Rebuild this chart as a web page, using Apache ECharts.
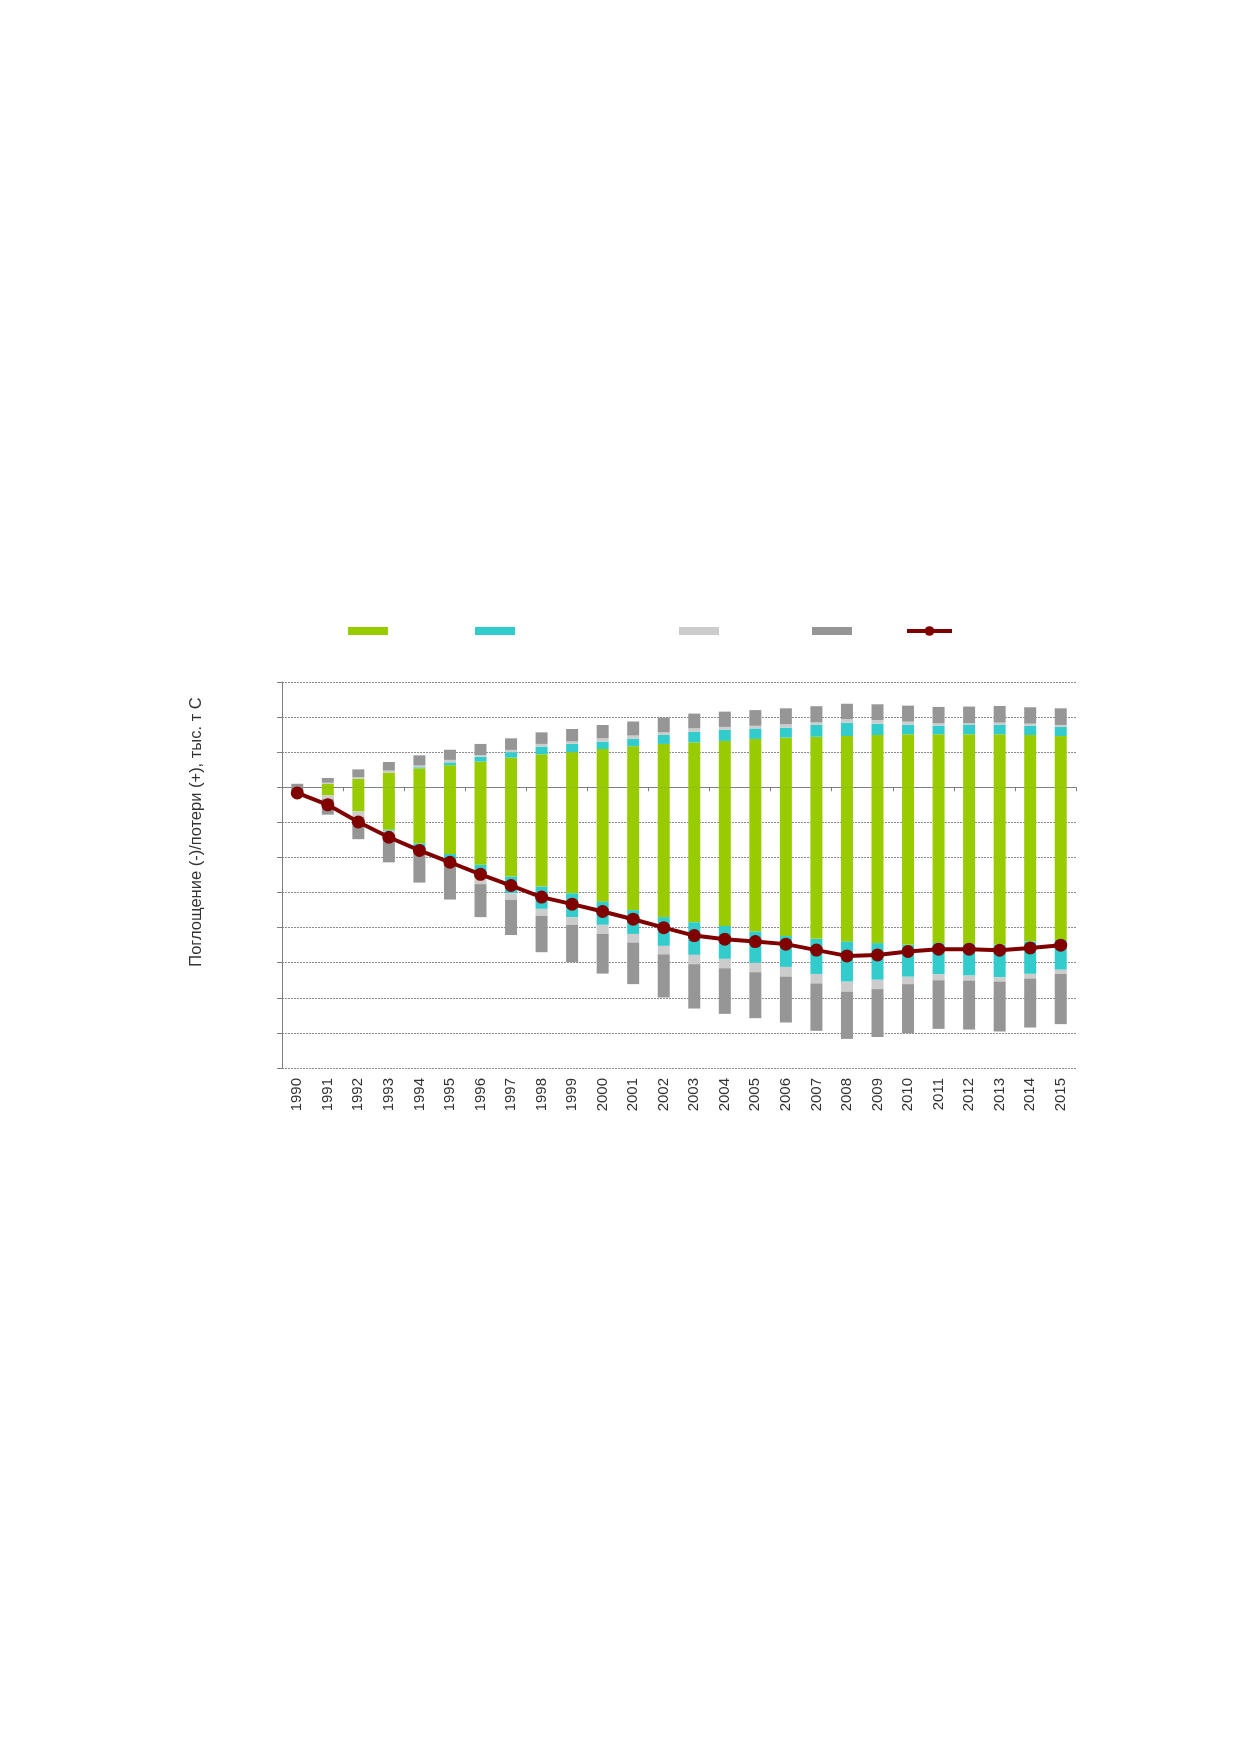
<!DOCTYPE html>
<html>
<head>
<meta charset="utf-8">
<script src="https://cdn.jsdelivr.net/npm/echarts@6/dist/echarts.min.js"></script>
<style>
html,body{margin:0;padding:0;background:#fff;}
#chart{width:1239px;height:1754px;}
</style>
</head>
<body>
<div id="chart"></div>
<script>
var years = ['1990','1991','1992','1993','1994','1995','1996','1997','1998','1999','2000','2001','2002','2003','2004','2005','2006','2007','2008','2009','2010','2011','2012','2013','2014','2015'];

var greenPos = [0, 9.5, 24, 42, 54, 63, 73, 84.5, 94, 100, 109, 117, 123.5, 128, 132, 137.7, 141.5, 144, 146, 149, 151, 151, 151, 151, 149, 146];
var cyanPos  = [0, 0, 0, 0, 3, 8, 14, 15.5, 22, 24, 21, 21, 25.5, 30.5, 32, 30, 28.5, 33.6, 38, 32, 27.5, 24.7, 26.6, 26.6, 26.7, 26];
var lgrayPos = [0, 3.5, 4.5, 5.5, 5, 7, 5, 6.5, 7.5, 6.5, 9.5, 9.5, 7.5, 9.5, 8, 7.6, 9.5, 7.4, 10.5, 10.5, 8.5, 6.6, 4.8, 6.6, 5.7, 5.6];
var dgrayPos = [10, 13.5, 22.5, 24.5, 29, 29, 31.5, 33, 33, 35.5, 38, 40, 42.5, 42, 43.6, 44.6, 45.5, 46, 43.5, 45, 45.7, 46.7, 47.6, 47.5, 46.6, 47.4];

var greenNeg = [0, -23, -69, -121, -160, -190, -221, -254.5, -283, -302, -326, -350, -370, -384.6, -395, -411, -423.5, -432, -440, -444, -449, -444, -447, -449, -439.7, -435];
var cyanNeg  = [0, 0, 0, -3, -10, -15, -35, -47.5, -63.5, -68, -66, -68, -82, -93, -94, -89.5, -88.5, -100, -114, -104.6, -91, -88.8, -89.6, -92, -92, -85];
var lgrayNeg = [0, -10, -15, -12, -15, -14, -20, -19, -20, -22, -26, -24.5, -24, -26.5, -26.7, -26.5, -27.4, -27, -28.5, -26.5, -21, -17.2, -14.2, -12.7, -13.3, -11.8];
var dgrayNeg = [-26, -45, -64, -78, -86.6, -101, -94, -100, -103.5, -106.6, -113, -118.5, -123, -126.5, -130, -131, -131, -135, -134.5, -136.5, -140, -138.5, -139.6, -142.3, -139.7, -143.2];

var netTotal = [-16, -50, -99, -142.5, -180, -213.7, -248, -280, -313, -333, -354, -376, -400, -422.6, -433, -439.7, -447, -464, -480.5, -477.7, -468, -461.5, -461.5, -464.4, -457.7, -450];

var names = ['Лесные земли', 'Пахотные земли', 'Кормовые угодья', 'Водно-болотные угодья', 'Нетто'];
var colors = ['#99cc00', '#33cccc', '#cccccc', '#969696', '#800000'];

var chart = echarts.init(document.getElementById('chart'), null, {renderer: 'canvas'});

function barSeries(name, data, color) {
  return {
    name: name, type: 'bar', stack: 'total', xAxisIndex: 0, data: data,
    barWidth: 12, itemStyle: {color: color}, emphasis: {disabled: true}
  };
}

var legendLefts = [348, 475, 679, 812];
var legends = [];
for (var i = 0; i < 4; i++) {
  legends.push({
    data: [names[i]], left: legendLefts[i], top: 627, icon: 'rect',
    itemWidth: 40, itemHeight: 8, itemGap: 0, padding: 0,
    formatter: function () { return ''; }, textStyle: {fontSize: 1}
  });
}
legends.push({
  data: [names[4]], left: 905, top: 625, itemWidth: 45, itemHeight: 12, padding: 0,
  lineStyle: {width: 4},
  formatter: function () { return ''; }, textStyle: {fontSize: 1}
});

var option = {
  animation: false,
  backgroundColor: '#ffffff',
  textStyle: {fontFamily: 'Liberation Sans, Arial, sans-serif'},
  legend: legends,
  grid: {left: 282, right: 163, top: 682, bottom: 686, containLabel: false},
  xAxis: [
    {
      type: 'category', data: years, position: 'bottom',
      axisLine: {onZero: true, lineStyle: {color: '#7f7f7f', width: 1}},
      axisTick: {show: true, length: 4, lineStyle: {color: '#7f7f7f'}},
      axisLabel: {show: false},
      splitLine: {show: false}
    },
    {
      type: 'category', data: years, position: 'bottom',
      axisLine: {show: false, onZero: false},
      axisTick: {show: false},
      axisLabel: {show: true, rotate: 90, margin: 10, fontSize: 15, color: '#333333', fontFamily: 'Liberation Sans, Arial, sans-serif'},
      splitLine: {show: false}
    }
  ],
  yAxis: {
    type: 'value', min: -800, max: 300, interval: 100,
    name: 'Поглощение (-)/потери (+), тыс. т С',
    nameLocation: 'middle', nameGap: 77, nameRotate: 90,
    nameTextStyle: {fontSize: 16.5, color: '#333333', fontFamily: 'Liberation Sans, Arial, sans-serif', padding: [0, 0, 0, 86]},
    axisLine: {show: true, lineStyle: {color: '#7f7f7f', width: 1}},
    axisTick: {show: true, length: 5, lineStyle: {color: '#7f7f7f'}},
    axisLabel: {show: false},
    splitLine: {show: true, lineStyle: {color: '#8c8c8c', width: 1, type: [2, 1]}}
  },
  series: [
    barSeries(names[0], greenPos, colors[0]),
    barSeries(names[0], greenNeg, colors[0]),
    barSeries(names[1], cyanPos, colors[1]),
    barSeries(names[1], cyanNeg, colors[1]),
    barSeries(names[2], lgrayPos, colors[2]),
    barSeries(names[2], lgrayNeg, colors[2]),
    barSeries(names[3], dgrayPos, colors[3]),
    barSeries(names[3], dgrayNeg, colors[3]),
    {
      name: names[4], type: 'line', data: netTotal, xAxisIndex: 0, z: 5,
      symbol: 'circle', symbolSize: 13,
      lineStyle: {color: colors[4], width: 4},
      itemStyle: {color: colors[4]},
      emphasis: {disabled: true}
    }
  ]
};
chart.setOption(option);
</script>
</body>
</html>
